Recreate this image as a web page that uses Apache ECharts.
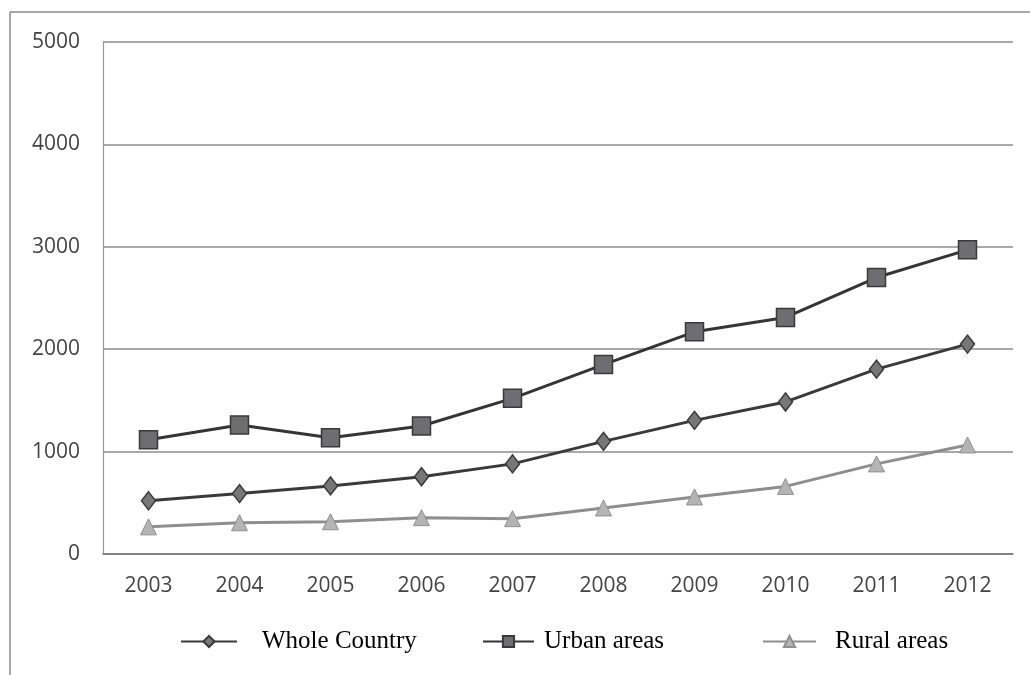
<!DOCTYPE html>
<html>
<head>
<meta charset="utf-8">
<script src="https://cdn.jsdelivr.net/npm/echarts@6/dist/echarts.min.js"></script>
<style>
html,body{margin:0;padding:0;background:#fff;}
#chart{width:1030px;height:675px;}
</style>
</head>
<body>
<div id="chart"></div>
<script>
const years = ['2003','2004','2005','2006','2007','2008','2009','2010','2011','2012'];
const wholeCountry = [520, 590, 665, 755, 880, 1100, 1305, 1485, 1805, 2050];
const urbanAreas = [1115, 1260, 1135, 1250, 1520, 1850, 2170, 2310, 2700, 2970];
const ruralAreas = [265, 305, 315, 355, 345, 450, 557, 660, 880, 1065];
const yTicks = {min: 0, max: 5000, interval: 1000};

const chart = echarts.init(document.getElementById('chart'));
function legendText(padLeft) {
  return {fontFamily: 'Liberation Serif, Times New Roman, serif', fontSize: 25, color: '#000', padding: [0,0,0,padLeft]};
}
const legendBase = {top: 624, itemHeight: 14, selectedMode: false};
chart.setOption({
  animation: false,
  backgroundColor: '#fff',
  graphic: [
    {type: 'line', shape: {x1: 10, y1: 12, x2: 1030, y2: 12}, style: {stroke: '#8a8a8a', lineWidth: 1.5}},
    {type: 'line', shape: {x1: 10, y1: 12, x2: 10, y2: 675}, style: {stroke: '#8a8a8a', lineWidth: 1.5}}
  ],
  grid: {left: 103, right: 17, top: 42, bottom: 121},
  legend: [
    Object.assign({left: 175, itemWidth: 56, data: ['Whole Country'], textStyle: legendText(20)}, legendBase),
    Object.assign({left: 477, itemWidth: 51, data: ['Urban areas'], textStyle: legendText(5)}, legendBase),
    Object.assign({left: 757, itemWidth: 53, data: ['Rural areas'], textStyle: legendText(14)}, legendBase)
  ],
  xAxis: {
    type: 'category',
    data: years,
    boundaryGap: true,
    axisLine: {show: true, lineStyle: {color: '#777', width: 1.5}},
    axisTick: {show: false},
    axisLabel: {color: '#444', fontSize: 21, fontFamily: 'Open Sans, DejaVu Sans, sans-serif', margin: 22}
  },
  yAxis: {
    type: 'value',
    min: yTicks.min, max: yTicks.max, interval: yTicks.interval,
    axisLine: {show: true, lineStyle: {color: '#999', width: 1.2}},
    axisTick: {show: false},
    axisLabel: {color: '#444', fontSize: 21, fontFamily: 'Open Sans, DejaVu Sans, sans-serif', margin: 23,
      formatter: function (v) { return String(v); }},
    splitLine: {lineStyle: {color: '#8c8c8c', width: 1.5}}
  },
  series: [
    {
      name: 'Whole Country', type: 'line', data: wholeCountry,
      symbol: 'diamond', symbolSize: [14, 18],
      lineStyle: {color: '#3a3a3a', width: 3},
      itemStyle: {color: '#777', borderColor: '#3a3a3a', borderWidth: 1.5}
    },
    {
      name: 'Urban areas', type: 'line', data: urbanAreas,
      symbol: 'rect', symbolSize: 18,
      lineStyle: {color: '#353535', width: 3},
      itemStyle: {color: '#6d6d72', borderColor: '#3a3a3a', borderWidth: 1.5}
    },
    {
      name: 'Rural areas', type: 'line', data: ruralAreas,
      symbol: 'triangle', symbolSize: 16,
      lineStyle: {color: '#8e8e8e', width: 3},
      itemStyle: {color: '#b4b4b4', borderColor: '#909090', borderWidth: 1}
    }
  ]
});
</script>
</body>
</html>
